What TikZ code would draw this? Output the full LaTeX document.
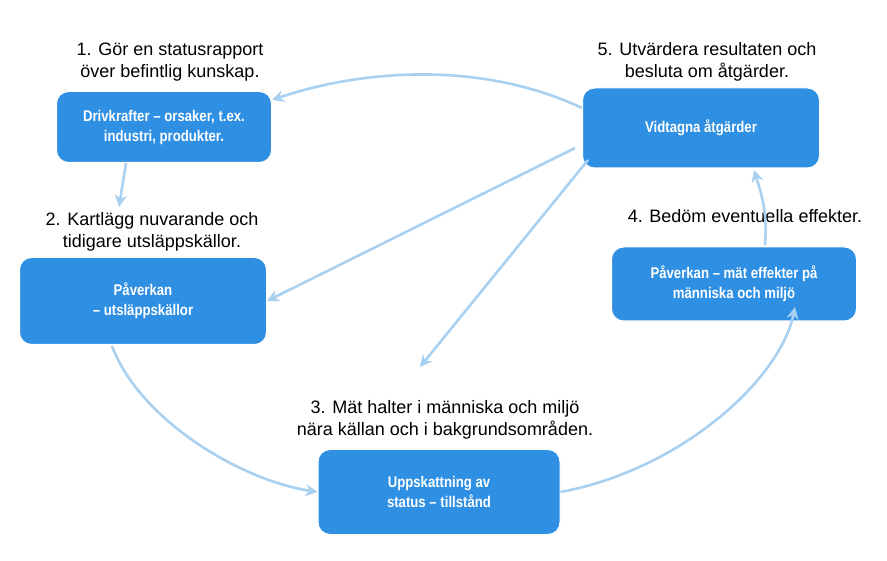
\documentclass[tikz,border=0pt]{standalone}
\usepackage{fontspec}
\setmainfont{Liberation Sans}
\usetikzlibrary{arrows.meta}
\definecolor{boxblue}{HTML}{2E8FE3}
\definecolor{arrblue}{HTML}{A8D0F0}
\begin{document}
\begin{tikzpicture}[x=1pt,y=-1pt,
  bx/.style={draw=white,line width=1pt,fill=boxblue,rounded corners=12pt,text=white,font=\bfseries\fontsize{15.5}{20}\selectfont,align=center,minimum width=#1,inner sep=2pt},
  lbl/.style={font=\fontsize{18}{22}\selectfont,align=center},
  ar/.style={draw=arrblue,line width=2.6pt,-{Stealth[length=12pt,width=12pt]}}]
\useasboundingbox (0,0) rectangle (887,561);
\node[bx=215pt,minimum height=71pt] (b1) at (164,127) {\scalebox{0.85}[1]{Drivkrafter -- orsaker, t.ex.}\\\scalebox{0.85}[1]{industri, produkter.}};
\node[bx=247pt,minimum height=87pt] (b2) at (143,301) {\scalebox{0.85}[1]{Påverkan}\\\scalebox{0.85}[1]{-- utsläppskällor}};
\node[bx=242pt,minimum height=85pt] (b3) at (439,492) {\scalebox{0.85}[1]{Uppskattning av}\\\scalebox{0.85}[1]{status -- tillstånd}};
\node[bx=245pt,minimum height=74pt] (b4) at (734,284) {\scalebox{0.85}[1]{Påverkan -- mät effekter på}\\\scalebox{0.85}[1]{människa och miljö}};
\node[bx=237pt,minimum height=80pt] (b5) at (701,128) {\scalebox{0.85}[1]{Vidtagna åtgärder}};
\node[lbl] (l1) at (170,62) {1. Gör en statusrapport\\över befintlig kunskap.};
\node[lbl] (l5) at (707,62) {5. Utvärdera resultaten och\\besluta om åtgärder.};
\node[lbl] (l2) at (152,232) {2. Kartlägg nuvarande och\\tidigare utsläppskällor.};
\node[lbl] (l4) at (745,216) {4. Bedöm eventuella effekter.};
\node[lbl] (l3) at (445,420) {3. Mät halter i människa och miljö\\nära källan och i bakgrundsområden.};
\coordinate (t3) at (420,367);
\draw[ar] (b5.west |- 0,108) .. controls (480,60) and (360,70) .. (b1.east |- 0,100);
\draw[ar] (b1.south -| 126,0) -- (119,207);
\draw[ar] (575,148) -- (b2.east);
\draw[ar] (588,160) -- (t3);
\draw[ar] (112,346) .. controls (140,420) and (240,480) .. (b3.west);
\draw[ar] (b3.east) .. controls (680,470) and (780,380) .. (795,307);
\draw[ar] (765,245) .. controls (768,210) and (760,190) .. (754,170);
\end{tikzpicture}
\end{document}
